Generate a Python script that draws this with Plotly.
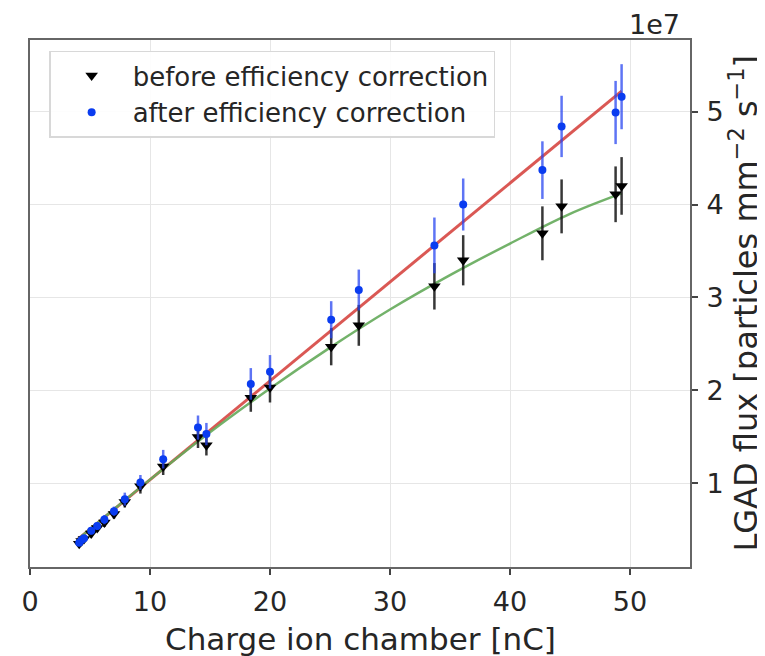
import plotly.graph_objects as go

# ---- data ----
charge_nC = [4.1, 4.3, 4.5, 5.1, 5.6, 6.2, 7.0, 7.9, 9.2, 11.1, 14.0, 14.7,
             18.4, 20.0, 25.1, 27.4, 33.7, 36.1, 42.7, 44.3, 48.8, 49.3]
flux_before = [0.35e7, 0.38e7, 0.40e7, 0.46e7, 0.52e7, 0.58e7, 0.67e7, 0.80e7, 0.97e7, 1.18e7, 1.50e7, 1.41e7,
               1.92e7, 2.03e7, 2.47e7, 2.70e7, 3.12e7, 3.40e7, 3.69e7, 3.98e7, 4.11e7, 4.20e7]
err_before = [0.03e7, 0.03e7, 0.03e7, 0.04e7, 0.04e7, 0.05e7, 0.05e7, 0.06e7, 0.08e7, 0.09e7, 0.12e7, 0.11e7,
              0.15e7, 0.16e7, 0.20e7, 0.22e7, 0.25e7, 0.27e7, 0.29e7, 0.29e7, 0.30e7, 0.31e7]
flux_after = [0.36e7, 0.39e7, 0.41e7, 0.49e7, 0.54e7, 0.61e7, 0.70e7, 0.83e7, 1.01e7, 1.26e7, 1.60e7, 1.53e7,
              2.07e7, 2.20e7, 2.76e7, 3.08e7, 3.56e7, 4.00e7, 4.37e7, 4.84e7, 4.99e7, 5.16e7]
err_after = [0.03e7, 0.03e7, 0.03e7, 0.04e7, 0.04e7, 0.05e7, 0.05e7, 0.07e7, 0.08e7, 0.10e7, 0.13e7, 0.12e7,
             0.17e7, 0.18e7, 0.20e7, 0.22e7, 0.30e7, 0.28e7, 0.31e7, 0.33e7, 0.34e7, 0.35e7]

# fitted curves
red_x = [4.0, 49.3]
red_y = [0.40e7, 5.22e7]
green_x = [4.0, 10, 15, 20, 25, 30, 35, 40, 45, 49.3]
green_y = [0.40e7, 1.04e7, 1.55e7, 2.02e7, 2.46e7, 2.87e7, 3.24e7, 3.58e7, 3.90e7, 4.12e7]

x_ticks = [0, 10, 20, 30, 40, 50]
y_ticks = [1e7, 2e7, 3e7, 4e7, 5e7]
y_tick_labels = ["1", "2", "3", "4", "5"]

FONT = "DejaVu Sans"
TXT = "#262626"

W, H = 757, 648          # page body has an 8px margin
L, R, T, B = 22, 75, 32, 89
PW, PH = W - L - R, H - T - B

fig = go.Figure()
fig.add_trace(go.Scatter(x=red_x, y=red_y, mode="lines",
                         line=dict(color="rgba(214,70,65,0.9)", width=3), showlegend=False, hoverinfo="skip"))
fig.add_trace(go.Scatter(x=green_x, y=green_y, mode="lines", line_shape="spline",
                         line=dict(color="rgba(100,170,90,0.9)", width=2.5), showlegend=False, hoverinfo="skip"))
fig.add_trace(go.Scatter(x=charge_nC, y=flux_before, mode="markers", name="before efficiency correction",
                         marker=dict(symbol="triangle-down", color="black", size=11),
                         error_y=dict(type="data", array=err_before, color="rgba(20,20,20,0.85)",
                                      thickness=2.5, width=0)))
fig.add_trace(go.Scatter(x=charge_nC, y=flux_after, mode="markers", name="after efficiency correction",
                         marker=dict(symbol="circle", color="#0a3cf0", size=8),
                         error_y=dict(type="data", array=err_after, color="rgba(40,70,240,0.75)",
                                      thickness=2.5, width=0)))

fig.update_layout(
    width=W, height=H,
    margin=dict(l=L, r=R, t=T, b=B),
    paper_bgcolor="white", plot_bgcolor="white",
    font=dict(family=FONT, color=TXT),
    legend=dict(x=0.029, y=0.98, xanchor="left", yanchor="top",
                bgcolor="rgba(255,255,255,0.9)", bordercolor="#d8d8d8", borderwidth=1.5,
                font=dict(size=26, family=FONT, color=TXT), itemwidth=72, tracegroupgap=0),
    xaxis=dict(range=[0, 55], tickvals=x_ticks, ticks="outside", ticklen=6, tickwidth=1.5,
               tickcolor="#444", showgrid=True, gridcolor="#e6e6e6", gridwidth=1, automargin=False,
               showline=True, linecolor="#666", linewidth=2, mirror=True, zeroline=False,
               ticklabelstandoff=4,
               tickfont=dict(size=27, family=FONT, color=TXT)),
    yaxis=dict(range=[0.1e7, 5.77e7], side="right", tickvals=y_ticks, ticktext=y_tick_labels,
               ticks="outside", ticklen=6, tickwidth=1.5, tickcolor="#444", automargin=False,
               showgrid=True, gridcolor="#e6e6e6", gridwidth=1,
               showline=True, linecolor="#666", linewidth=2, mirror=True, zeroline=False,
               ticklabelstandoff=3,
               tickfont=dict(size=27, family=FONT, color=TXT)),
    annotations=[
        dict(text="1e7", xref="paper", yref="paper", x=(682 - 8 - L) / PW, y=1.0 + 16 / PH, xanchor="right",
             yanchor="middle", showarrow=False, font=dict(size=27, family=FONT, color=TXT)),
        dict(text="Charge ion chamber [nC]", xref="paper", yref="paper", x=0.5, y=-72 / PH,
             xanchor="center", yanchor="middle", showarrow=False,
             font=dict(size=31, family=FONT, color=TXT)),
        dict(text="LGAD flux [particles mm<sup>−2</sup> s<sup>−1</sup>]", xref="paper", yref="paper",
             x=1 + 53 / PW, y=0.5, xanchor="center", yanchor="middle", textangle=-90, showarrow=False,
             font=dict(size=32, family=FONT, color=TXT)),
    ],
)

fig.write_html("out.html")
